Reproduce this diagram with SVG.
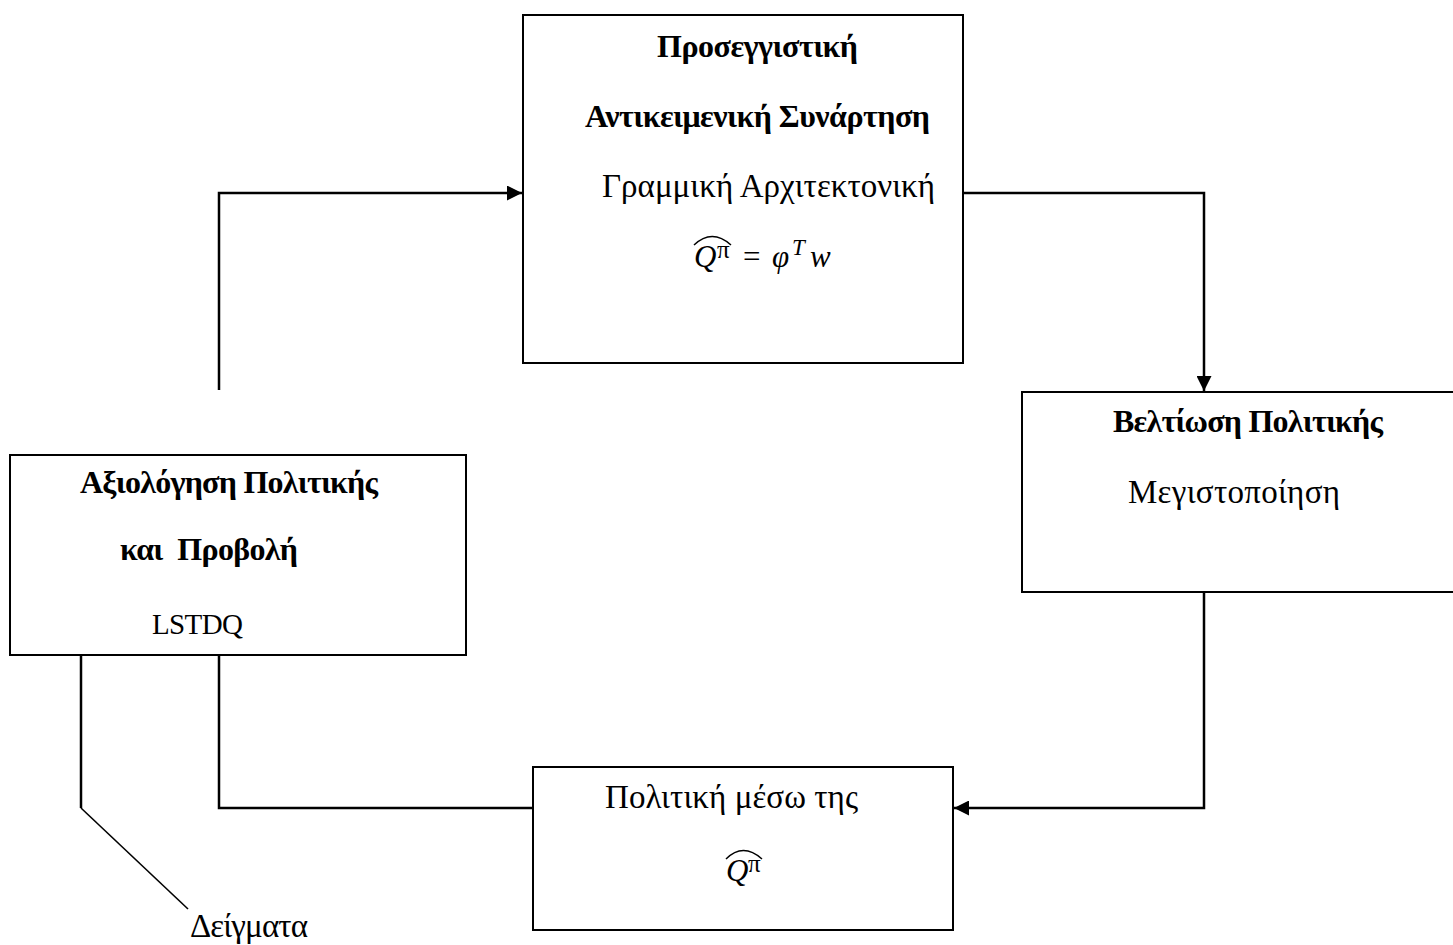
<svg xmlns="http://www.w3.org/2000/svg" width="1453" height="945" viewBox="0 0 1453 945">
  <style>
    .box { fill: #ffffff; stroke: #000000; stroke-width: 2; }
    .wire { fill: none; stroke: #000000; stroke-width: 2.5; }
    .thin { fill: none; stroke: #000000; stroke-width: 1.6; }
    .t { font-family: "Liberation Serif", "DejaVu Serif", serif; font-size: 33px; fill: #000000; }
    .b { font-weight: bold; font-size: 32px; }
    .m { font-family: "Liberation Serif", "DejaVu Serif", serif; font-style: italic; font-size: 31px; fill: #000000; }
    .op { font-family: "Liberation Serif", "DejaVu Serif", serif; font-size: 31px; fill: #000000; }
    .sup { font-family: "Liberation Serif", "DejaVu Serif", serif; font-style: italic; font-size: 23px; fill: #000000; }
    .pi { font-family: "Liberation Serif", "DejaVu Serif", serif; font-size: 25px; fill: #000000; }
    .hat { fill: none; stroke: #000000; stroke-width: 1.5; }
  </style>
  <defs>
    <marker id="arrow" viewBox="0 0 10 10" refX="10" refY="5" markerWidth="6.4" markerHeight="6" markerUnits="strokeWidth" orient="auto">
      <path d="M0,0 L10,5 L0,10 Z" fill="#000000"/>
    </marker>
  </defs>
  <rect width="1453" height="945" fill="#ffffff"/>

  <!-- connectors -->
  <g id="connectors">
    <polyline class="wire" points="219,390 219,193 522,193" marker-end="url(#arrow)"/>
    <polyline class="wire" points="963,193 1204,193 1204,391" marker-end="url(#arrow)"/>
    <polyline class="wire" points="1204,592 1204,808 954,808" marker-end="url(#arrow)"/>
    <polyline class="wire" points="533,808 219,808 219,655"/>
    <polyline class="wire" points="81,655 81,808"/>
    <line class="thin" x1="81" y1="808" x2="188" y2="909"/>
  </g>

  <!-- approximate objective function -->
  <g id="node-approx">
    <rect class="box" x="523" y="15" width="440" height="348"/>
    <text class="t b" x="657" y="57" textLength="201">Προσεγγιστική</text>
    <text class="t b" x="585" y="127" textLength="345">Αντικειμενική Συνάρτηση</text>
    <text class="t" x="602" y="197" textLength="333">Γραμμική Αρχιτεκτονική</text>
    <text class="m" x="694" y="267">Q</text>
    <text class="pi" x="717" y="258">π</text>
    <path class="hat" d="M694,245 Q712,228 731,245"/>
    <text class="op" x="743" y="267">=</text>
    <text class="m" x="772" y="267">φ</text>
    <text class="sup" x="792" y="255">T</text>
    <text class="m" x="810" y="267">w</text>
  </g>

  <!-- policy improvement -->
  <g id="node-improve">
    <rect class="box" x="1022" y="392" width="445" height="200"/>
    <text class="t b" x="1113" y="432" textLength="270">Βελτίωση Πολιτικής</text>
    <text class="t" x="1128" y="503" textLength="212">Μεγιστοποίηση</text>
  </g>

  <!-- policy evaluation and projection -->
  <g id="node-eval">
    <rect class="box" x="10" y="455" width="456" height="200"/>
    <text class="t b" x="80" y="493" textLength="298">Αξιολόγηση Πολιτικής</text>
    <text class="t b" x="120" y="560" textLength="178" xml:space="preserve">και  Προβολή</text>
    <text class="t" x="152" y="634" style="font-size:29px" textLength="91">LSTDQ</text>
  </g>

  <!-- greedy policy -->
  <g id="node-policy">
    <rect class="box" x="533" y="767" width="420" height="163"/>
    <text class="t" x="605" y="808" textLength="253">Πολιτική μέσω της</text>
    <text class="m" x="726" y="881">Q</text>
    <text class="pi" x="748" y="872">π</text>
    <path class="hat" d="M726,859 Q743,842 762,859"/>
  </g>

  <!-- samples label -->
  <g id="label-samples">
    <text class="t" x="190" y="937" textLength="118">Δείγματα</text>
  </g>
</svg>
